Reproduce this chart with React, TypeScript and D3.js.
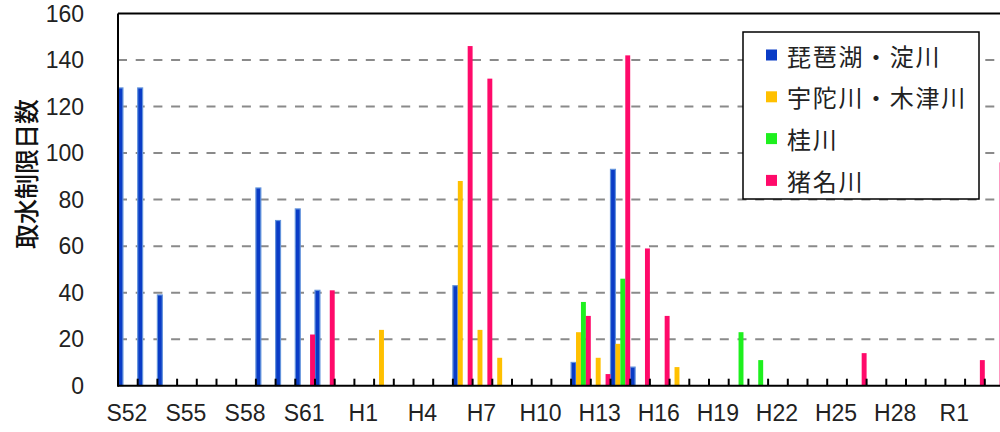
import React from "react";
import * as d3 from "d3";

const categories: string[] = [
  "S52","S53","S54","S55","S56","S57","S58","S59","S60","S61","S62","S63",
  "H1","H2","H3","H4","H5","H6","H7","H8","H9","H10","H11","H12","H13","H14","H15",
  "H16","H17","H18","H19","H20","H21","H22","H23","H24","H25","H26","H27","H28","H29","H30",
  "R1","R2","R3",
];
const tickLabels: string[] = ["S52","S55","S58","S61","H1","H4","H7","H10","H13","H16","H19","H22","H25","H28","R1"];
const seriesNames: string[] = ["琵琶湖・淀川", "宇陀川・木津川", "桂川", "猪名川"];
const biwakoYodo: Record<string, number> = { S52: 128, S53: 128, S54: 39, S59: 85, S60: 71, S61: 76, S62: 41, H6: 43, H12: 10, H14: 93, H15: 8 };
const udaKizu: Record<string, number> = { H2: 24, H6: 88, H7: 24, H8: 12, H12: 23, H13: 12, H14: 18, H17: 8 };
const katsura: Record<string, number> = { H12: 36, H14: 46, H20: 23, H21: 11 };
const inagawa: Record<string, number> = { S61: 22, S62: 41, H6: 146, H7: 132, H12: 30, H13: 5, H14: 142, H15: 59, H16: 30, H26: 14, R2: 11, R3: 96 };
const yTicks: number[] = [0, 20, 40, 60, 80, 100, 120, 140, 160];

const seriesData = [biwakoYodo, udaKizu, katsura, inagawa];
const colors = ["#0a3cc6", "#ffc000", "#1ef01e", "#ff0a6a"];
const strokes = ["#6494dc", "none", "none", "none"];

export default function App() {
  const W = 1000, H = 432;
  const left = 118, right = 1004.5, top = 13.5, bottom = 385.7;
  const x0 = d3.scaleBand<string>().domain(categories).range([left, right]).padding(0);
  const x1 = d3.scaleBand<string>().domain(seriesNames).range([0, x0.bandwidth()]).padding(0);
  const y = d3.scaleLinear().domain([0, 160]).range([bottom, top]);

  const bars: React.ReactNode[] = [];
  seriesData.forEach((s, si) => {
    categories.forEach((c) => {
      const v = s[c];
      if (!v) return;
      const bx = (x0(c) as number) + (x1(seriesNames[si]) as number);
      bars.push(
        <rect key={`${si}-${c}`} x={bx} y={y(v)} width={x1.bandwidth()} height={bottom - y(v)}
          fill={colors[si]} stroke={strokes[si]} strokeWidth={strokes[si] === "none" ? 0 : 1.2} />
      );
    });
  });

  const legendX = 743, legendY = 32, legendW = 236, legendH = 167;

  return (
    <svg width={W} height={H} style={{ position: "absolute", left: 0, top: 0, background: "#fff" }}>
      <rect x={0} y={0} width={W} height={H} fill="#fff" />
      {yTicks.filter((t) => t > 0 && t < 160).map((t) => (
        <line key={t} x1={left} x2={right} y1={y(t)} y2={y(t)} stroke="#8a8a8a" strokeWidth={2} strokeDasharray="9 8.7" />
      ))}
      {bars}
      {categories.slice(1).map((c) => (
        <line key={c} x1={x0(c) as number} x2={x0(c) as number} y1={bottom} y2={bottom - 7} stroke="#000" strokeWidth={2} />
      ))}
      <line x1={left} x2={right + 2} y1={top} y2={top} stroke="#000" strokeWidth={2} />
      <line x1={left} x2={left} y1={top} y2={bottom + 1} stroke="#000" strokeWidth={2} />
      <line x1={left} x2={right + 2} y1={bottom} y2={bottom} stroke="#000" strokeWidth={2} />
      {yTicks.map((t) => (
        <text key={t} x={84} y={y(t)} textAnchor="end" dominantBaseline="central"
          fontFamily="'Liberation Sans', Arial, sans-serif" fontSize={23} fill="#222">{t}</text>
      ))}
      {tickLabels.map((l) => (
        <text key={l} x={(x0(l) as number) + x0.bandwidth() / 2 - 1} y={413} textAnchor="middle" dominantBaseline="central"
          fontFamily="'Liberation Sans', Arial, sans-serif" fontSize={23} fill="#222">{l}</text>
      ))}
      <text transform="translate(25,174) rotate(-90)" textAnchor="middle" dominantBaseline="central"
        fontFamily="'Noto Sans CJK JP', sans-serif" fontSize={25} fontWeight={500} fill="#111">取水制限日数</text>
      <rect x={legendX} y={legendY} width={legendW} height={legendH} fill="#fff" stroke="#000" strokeWidth={1.5} />
      {seriesNames.map((n, i) => {
        const cy = 55 + i * 41.8;
        return (
          <g key={n}>
            <rect x={766} y={cy - 5.5} width={11} height={11} fill={colors[i]} />
            <text x={787} y={cy} dominantBaseline="central" fontFamily="'Noto Sans CJK JP', sans-serif" fontSize={24} letterSpacing={1.7} fill="#222">{n}</text>
          </g>
        );
      })}
    </svg>
  );
}
